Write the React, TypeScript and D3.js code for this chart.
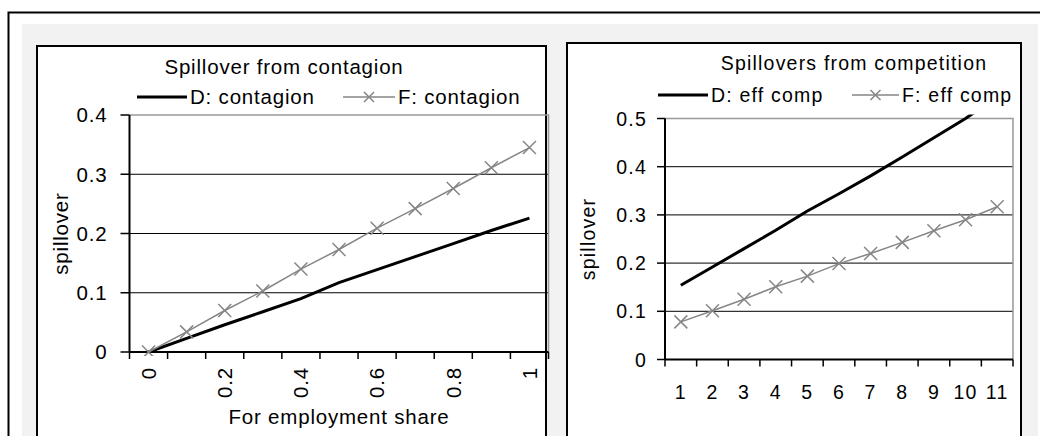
import React from "react"
import * as d3 from "d3"

// Left panel: spillover from contagion against foreign employment share
const shares = [0, 0.1, 0.2, 0.3, 0.4, 0.5, 0.6, 0.7, 0.8, 0.9, 1]
const shareLabels = ["0", "", "0.2", "", "0.4", "", "0.6", "", "0.8", "", "1"]
const contagionD = [0, 0.023, 0.046, 0.068, 0.09, 0.117, 0.139, 0.161, 0.183, 0.205, 0.226]
const contagionF = [0, 0.034, 0.07, 0.103, 0.14, 0.173, 0.209, 0.242, 0.276, 0.311, 0.345]
const contagionTicks = [0, 0.1, 0.2, 0.3, 0.4]

// Right panel: spillovers from competition
const steps = [1, 2, 3, 4, 5, 6, 7, 8, 9, 10, 11]
const stepLabels = ["1", "2", "3", "4", "5", "6", "7", "8", "9", "10", "11"]
const compD = [0.154, 0.192, 0.23, 0.268, 0.308, 0.344, 0.381, 0.42, 0.46, 0.5, 0.545]
const compF = [0.078, 0.101, 0.125, 0.151, 0.173, 0.199, 0.22, 0.243, 0.267, 0.29, 0.317]
const compTicks = [0, 0.1, 0.2, 0.3, 0.4, 0.5]

const FONT = "'Liberation Sans', Arial, sans-serif"
const GREY = "#868686"

const crossPath = (px, py, s) =>
  `M${px - s},${py - s}L${px + s},${py + s}M${px - s},${py + s}L${px + s},${py - s}`

const Panel = ({ cfg }) => {
  const { plot, box } = cfg
  const x = d3
    .scaleBand()
    .domain(cfg.cats.map(String))
    .range([plot.left, plot.right])
    .padding(0)
  const y = d3.scaleLinear().domain([0, cfg.yMax]).range([plot.bottom, plot.top])
  const cx = (i) => x(String(cfg.cats[i])) + x.bandwidth() / 2
  const line = d3
    .line()
    .x((_, i) => cx(i))
    .y((d) => y(d))
  const bounds = [...x.domain().map((c) => x(c)), plot.right]
  const txt = { fontFamily: FONT, fontSize: cfg.fontSize, letterSpacing: cfg.ls, fill: "#000" }
  const clipId = `clip-${cfg.id}`

  return (
    <g>
      {/* chart box */}
      <rect x={box.x} y={box.y} width={box.w} height={box.h} fill="#fff" stroke="#000" strokeWidth={2} />

      <defs>
        <clipPath id={clipId}>
          <rect x={plot.left} y={plot.top - 4} width={plot.right - plot.left} height={plot.bottom - plot.top + 8} />
        </clipPath>
      </defs>

      {/* gridlines */}
      {cfg.ticks.slice(1, -1).map((t) => (
        <line key={t} x1={plot.left} x2={plot.right} y1={y(t)} y2={y(t)} stroke="#000" strokeWidth={1} />
      ))}
      {/* plot frame top and right */}
      <path
        d={`M${plot.left},${y(cfg.yMax)}H${plot.right}V${plot.bottom}`}
        fill="none"
        stroke="#999"
        strokeWidth={1.5}
      />

      {/* y axis */}
      <line x1={plot.left} x2={plot.left} y1={plot.top} y2={plot.bottom} stroke="#000" strokeWidth={2} />
      {cfg.ticks.map((t) => (
        <g key={t}>
          <line x1={plot.left - cfg.tickLen} x2={plot.left} y1={y(t)} y2={y(t)} stroke="#000" strokeWidth={1.5} />
          <text x={plot.left - cfg.labelGap} y={y(t)} dy="0.36em" textAnchor="end" style={txt}>
            {t}
          </text>
        </g>
      ))}

      {/* x axis */}
      <line x1={plot.left} x2={plot.right} y1={plot.bottom} y2={plot.bottom} stroke="#000" strokeWidth={2} />
      {bounds.map((b, i) => (
        <line key={i} x1={b} x2={b} y1={plot.bottom} y2={plot.bottom + 7} stroke="#000" strokeWidth={1.5} />
      ))}
      {cfg.labels.map((l, i) =>
        cfg.rotateX ? (
          <text
            key={i}
            transform={`translate(${cx(i)},${cfg.xLabelY}) rotate(-90)`}
            dy="0.36em"
            textAnchor="end"
            style={txt}
          >
            {l}
          </text>
        ) : (
          <text key={i} x={cx(i)} y={cfg.xLabelY} dy="0.36em" textAnchor="middle" style={txt}>
            {l}
          </text>
        ),
      )}

      {/* series */}
      <g clipPath={`url(#${clipId})`}>
        <path d={line(cfg.d)} fill="none" stroke="#000" strokeWidth={3} />
        <path d={line(cfg.f)} fill="none" stroke={GREY} strokeWidth={1.5} />
        {cfg.f.map((v, i) => (
          <path key={i} d={crossPath(cx(i), y(v), 6.5)} stroke={GREY} strokeWidth={1.5} fill="none" />
        ))}
      </g>

      {/* titles */}
      <text x={cfg.titleX} y={cfg.titleY} dy="0.36em" textAnchor="middle" style={txt}>
        {cfg.title}
      </text>
      <text
        transform={`translate(${cfg.yTitleX},${(plot.top + plot.bottom) / 2}) rotate(-90)`}
        dy="0.36em"
        textAnchor="middle"
        style={txt}
      >
        spillover
      </text>
      {cfg.xTitle && (
        <text x={(plot.left + plot.right) / 2} y={cfg.xTitleY} dy="0.36em" textAnchor="middle" style={txt}>
          {cfg.xTitle}
        </text>
      )}

      {/* legend */}
      <line x1={cfg.leg.d[0]} x2={cfg.leg.d[1]} y1={cfg.leg.y} y2={cfg.leg.y} stroke="#000" strokeWidth={3} />
      <text x={cfg.leg.d[1] + 3} y={cfg.leg.y} dy="0.36em" style={txt}>
        {cfg.names[0]}
      </text>
      <line x1={cfg.leg.f[0]} x2={cfg.leg.f[1]} y1={cfg.leg.y} y2={cfg.leg.y} stroke={GREY} strokeWidth={1.5} />
      <path
        d={crossPath((cfg.leg.f[0] + cfg.leg.f[1]) / 2, cfg.leg.y, 5)}
        stroke={GREY}
        strokeWidth={1.5}
        fill="none"
      />
      <text x={cfg.leg.f[1] + 3} y={cfg.leg.y} dy="0.36em" style={txt}>
        {cfg.names[1]}
      </text>
    </g>
  )
}

const left = {
  id: "contagion",
  cats: shares,
  labels: shareLabels,
  d: contagionD,
  f: contagionF,
  ticks: contagionTicks,
  yMax: 0.4,
  names: ["D: contagion", "F: contagion"],
  title: "Spillover from contagion",
  xTitle: "For employment share",
  rotateX: true,
  box: { x: 37, y: 46, w: 509, h: 400 },
  plot: { left: 129.5, right: 548.5, top: 115, bottom: 352 },
  fontSize: 20.5,
  ls: 0.8,
  tickLen: 9,
  labelGap: 22,
  xLabelY: 367,
  titleX: 284,
  titleY: 67,
  yTitleX: 61,
  xTitleY: 417,
  leg: { y: 97, d: [137, 187], f: [343, 395] },
}

const right = {
  id: "competition",
  cats: steps,
  labels: stepLabels,
  d: compD,
  f: compF,
  ticks: compTicks,
  yMax: 0.5,
  names: ["D: eff comp", "F: eff comp"],
  title: "Spillovers from competition",
  rotateX: false,
  box: { x: 567, y: 43, w: 454, h: 400 },
  plot: { left: 665, right: 1013, top: 118.5, bottom: 359.5 },
  fontSize: 19.5,
  ls: 1.2,
  tickLen: 8,
  labelGap: 18,
  xLabelY: 392,
  titleX: 854,
  titleY: 63,
  yTitleX: 588,
  leg: { y: 95, d: [658, 708], f: [852, 899] },
}

export default function App() {
  return (
    <svg width={1040} height={436} style={{ position: "absolute", left: 0, top: 0, background: "#fff" }}>
      {/* outer frame */}
      <path d="M8.5,436V12.5H1040" fill="none" stroke="#000" strokeWidth={2} />
      <rect x={22} y={24} width={1016} height={420} fill="#f2f2f2" />
      <Panel cfg={left} />
      <Panel cfg={right} />
    </svg>
  )
}
